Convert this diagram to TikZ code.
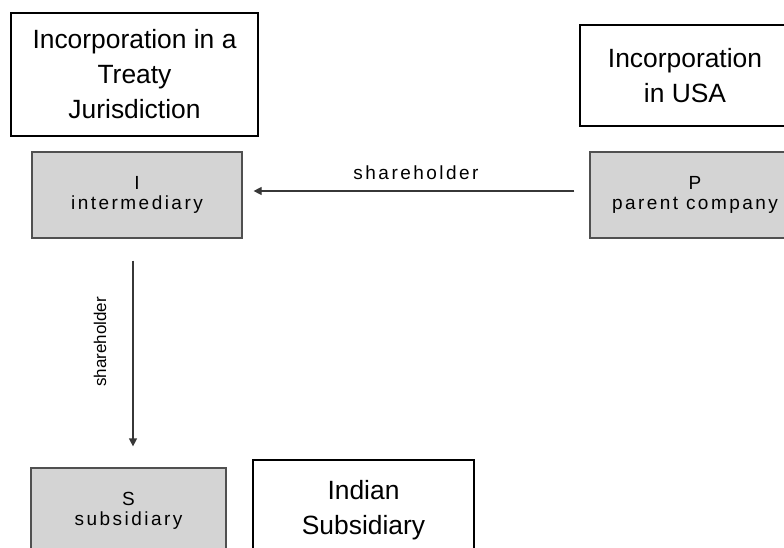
\documentclass[tikz,border=0pt]{standalone}
\usepackage{fontspec}
\setmainfont{Liberation Sans}
\newfontfamily\spacedfont[LetterSpace=13]{Liberation Sans}
\usepackage{tikz}
\usetikzlibrary{arrows.meta, positioning}
\definecolor{boxgray}{RGB}{212,212,212}
\definecolor{edgegray}{RGB}{80,80,80}
\definecolor{linegray}{RGB}{55,55,55}

\begin{document}
\begin{tikzpicture}[x=1pt, y=1pt,
    % Box styles
    placebox/.style={rectangle, draw=black, line width=1.6pt, inner sep=0pt, align=center,
                     font=\fontsize{26.4}{35}\selectfont},
    entitybox/.style={rectangle, draw=edgegray, line width=1.2pt, fill=boxgray, inner sep=0pt,
                      minimum width=210, minimum height=86, align=center,
                      font=\spacedfont\fontsize{19}{20}\selectfont},
    % Connector styles
    arrow/.style={-{Triangle[length=8pt, width=8pt]}, draw=linegray, line width=1.2pt},
    edgelabel/.style={font=\spacedfont\fontsize{19}{20}\selectfont, text=black},
    sidelabel/.style={font=\fontsize{17}{19}\selectfont, text=black}
]
\useasboundingbox (0,0) rectangle (784,-548);

% Jurisdiction boxes
\node[placebox, minimum width=247, minimum height=123] at (134.5,-74.5) (treaty)
    {Incorporation in a\\Treaty\\Jurisdiction};
\node[placebox, minimum width=210, minimum height=101] at (685,-75.5) (usa)
    {Incorporation\\in USA};
\node[placebox, minimum width=221, minimum height=100] at (363.5,-510) (india)
    {Indian\\Subsidiary};

% Companies
\node[entitybox] at (137,-195) (inter) {I\\intermediary};
\node[entitybox] at (695,-195) (parent) {P\\parent company};
\node[entitybox, minimum width=195] at (128.5,-511) (subs) {S\\subsidiary};

% Connections
% Parent to intermediary
\draw[arrow, shorten <=15pt, shorten >=11pt] ([yshift=4pt]parent.west) -- ([yshift=4pt]inter.east)
    node[midway, anchor=south, inner sep=11pt, edgelabel] {shareholder};

% Intermediary to subsidiary
\draw[arrow, shorten <=22pt, shorten >=21pt] ([xshift=-4pt]inter.south) -- ([xshift=-4pt]inter.south |- subs.north)
    node[midway, rotate=90, anchor=south, inner sep=26pt, xshift=11pt, sidelabel] {shareholder};

\end{tikzpicture}
\end{document}
